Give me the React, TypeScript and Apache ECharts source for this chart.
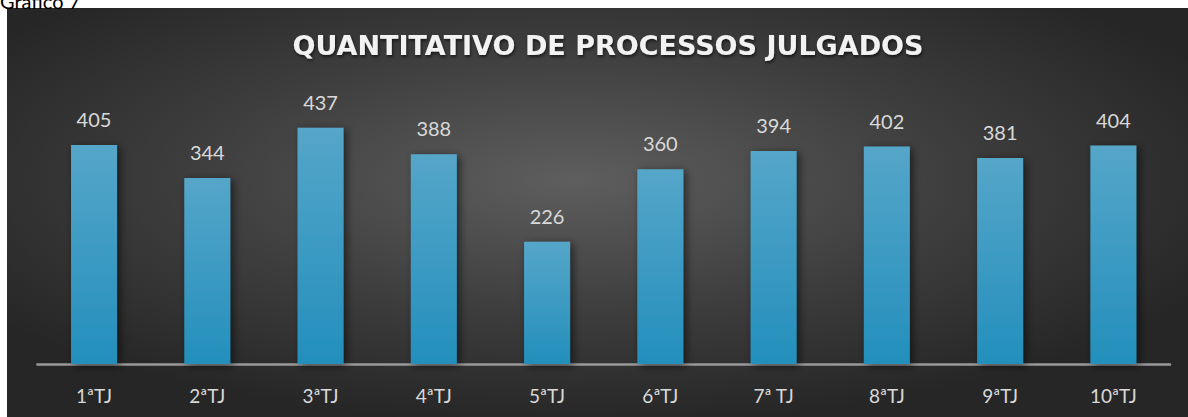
import React, { useEffect, useRef } from "react";
import * as echarts from "echarts";

const categories = ["1ªTJ", "2ªTJ", "3ªTJ", "4ªTJ", "5ªTJ", "6ªTJ", "7ª TJ", "8ªTJ", "9ªTJ", "10ªTJ"];
const values = [405, 344, 437, 388, 226, 360, 394, 402, 381, 404];
const titleText = "QUANTITATIVO DE PROCESSOS JULGADOS";
const captionText = "Gráfico 7";

export default function App() {
  const ref = useRef<HTMLDivElement>(null);
  useEffect(() => {
    if (!ref.current) return;
    const chart = echarts.init(ref.current, undefined, { renderer: "svg" });
    chart.setOption({
      animation: false,
      backgroundColor: "#ffffff",
      graphic: [
        {
          type: "rect",
          z: -10,
          shape: { x: 7, y: 8, width: 1181, height: 409 },
          style: {
            fill: new echarts.graphic.RadialGradient(0.48, 0.42, 0.6, [
              { offset: 0, color: "#5e5e5e" },
              { offset: 0.55, color: "#3d3d3d" },
              { offset: 1, color: "#262626" },
            ]),
          },
          silent: true,
        },
        {
          type: "text",
          x: 0,
          y: 11,
          style: {
            text: captionText,
            fill: "#000000",
            font: "20px Lato",
            verticalAlign: "bottom",
          },
          silent: true,
        },
      ],
      title: {
        text: titleText,
        left: 603,
        top: 27,
        textAlign: "center",
        textStyle: {
          color: "#f2f2f2",
          fontFamily: "DejaVu Sans",
          fontWeight: "bold",
          fontSize: 27,
          textShadowColor: "rgba(0,0,0,0.6)",
          textShadowBlur: 3,
          textShadowOffsetX: 1,
          textShadowOffsetY: 2,
        },
      },
      grid: { left: 37.4, right: 18, top: 93.6, bottom: 53, containLabel: false },
      xAxis: {
        type: "category",
        data: categories,
        axisLine: { show: true, lineStyle: { color: "#9a9a9a", width: 2.5 } },
        axisTick: { show: false },
        axisLabel: {
          color: "#d9d9d9",
          fontFamily: "Lato",
          fontSize: 19,
          margin: 22,
        },
      },
      yAxis: {
        type: "value",
        min: 0,
        max: 500,
        show: false,
        splitLine: { show: false },
      },
      series: [
        {
          type: "bar",
          data: values,
          barWidth: 46,
          itemStyle: {
            color: new echarts.graphic.LinearGradient(0, 0, 0, 1, [
              { offset: 0, color: "#55a6c9" },
              { offset: 1, color: "#238fbc" },
            ]),
            shadowColor: "rgba(0,0,0,0.55)",
            shadowBlur: 8,
            shadowOffsetX: 3,
            shadowOffsetY: 2,
          },
          label: {
            show: true,
            position: "top",
            distance: 16,
            color: "#d9d9d9",
            fontFamily: "Lato",
            fontSize: 20,
          },
        },
      ],
    });
    return () => chart.dispose();
  }, []);
  return (
    <div
      ref={ref}
      style={{ position: "absolute", left: 0, top: 0, width: 1188, height: 417 }}
    />
  );
}
